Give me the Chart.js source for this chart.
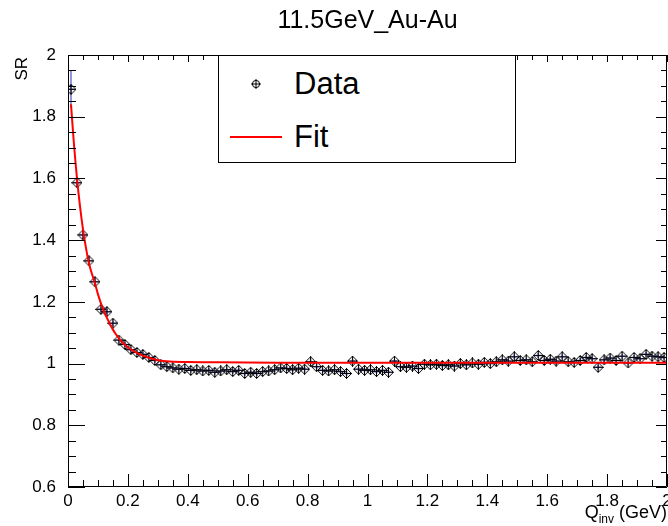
<!DOCTYPE html>
<html>
<head>
<meta charset="utf-8">
<script src="https://cdn.jsdelivr.net/npm/chart.js@4.4.0/dist/chart.umd.min.js"></script>
<style>
  body { margin: 0; background: #fff; }
  #wrap { position: relative; width: 668px; height: 526px; font-family: "Liberation Sans", Arial, sans-serif; color: #000; overflow: hidden; }
  #chart { position: absolute; left: 0; top: 0; }
  .title { position: absolute; left: 68px; width: 599px; top: 7px; text-align: center; font-size: 25px; line-height: 25px; }
  .ylab { position: absolute; left: 13px; top: 257px; width: 200px; text-align: right; font-size: 17px; line-height: 17px;
          transform-origin: 0 0; transform: rotate(-90deg); }
  .xlab { position: absolute; right: 1px; top: 503px; font-size: 18px; line-height: 18px; white-space: nowrap; }
  .xlab sub { font-size: 12px; line-height: 0; vertical-align: -5px; }
  .legend { position: absolute; left: 218px; top: 55px; width: 296px; height: 106px; border: 1px solid #000; background: #fff; }
  .legend .txt { position: absolute; left: 75px; font-size: 31px; line-height: 31px; }
  .legend .mark { position: absolute; left: 32px; top: 23px; }
  .legend .line { position: absolute; left: 11px; top: 80px; width: 52px; border-top: 2px solid #ff0000; }
</style>
</head>
<body>
<div id="wrap">
  <canvas id="chart" width="668" height="526"></canvas>
  <div class="title">11.5GeV_Au-Au</div>
  <div class="ylab">SR</div>
  <div class="xlab">Q<sub>inv</sub> (GeV)</div>
  <div class="legend">
    <svg class="mark" width="10" height="10" viewBox="0 0 10 10">
      <circle cx="5" cy="5" r="3.6" fill="none" stroke="#000" stroke-width="1"/>
      <line x1="5" y1="0" x2="5" y2="10" stroke="#000" stroke-width="1"/>
      <line x1="0" y1="5" x2="10" y2="5" stroke="#000" stroke-width="1"/>
    </svg>
    <div class="txt" style="top:12px">Data</div>
    <div class="line"></div>
    <div class="txt" style="top:65px">Fit</div>
  </div>
</div>
<script>
// bin centres (GeV), 0.02 GeV bins
const qBins = [
  0.01, 0.03, 0.05, 0.07, 0.09, 0.11, 0.13, 0.15, 0.17, 0.19,
  0.21, 0.23, 0.25, 0.27, 0.29, 0.31, 0.33, 0.35, 0.37, 0.39,
  0.41, 0.43, 0.45, 0.47, 0.49, 0.51, 0.53, 0.55, 0.57, 0.59,
  0.61, 0.63, 0.65, 0.67, 0.69, 0.71, 0.73, 0.75, 0.77, 0.79,
  0.81, 0.83, 0.85, 0.87, 0.89, 0.91, 0.93, 0.95, 0.97, 0.99,
  1.01, 1.03, 1.05, 1.07, 1.09, 1.11, 1.13, 1.15, 1.17, 1.19,
  1.21, 1.23, 1.25, 1.27, 1.29, 1.31, 1.33, 1.35, 1.37, 1.39,
  1.41, 1.43, 1.45, 1.47, 1.49, 1.51, 1.53, 1.55, 1.57, 1.59,
  1.61, 1.63, 1.65, 1.67, 1.69, 1.71, 1.73, 1.75, 1.77, 1.79,
  1.81, 1.83, 1.85, 1.87, 1.89, 1.91, 1.93, 1.95, 1.97, 1.99
];

// measured SR per bin
const srValues = [
  1.889, 1.586, 1.417, 1.333, 1.265, 1.176, 1.168, 1.131, 1.076, 1.062,
  1.045, 1.036, 1.030, 1.020, 1.010, 0.996, 0.990, 0.986, 0.982, 0.984,
  0.978, 0.980, 0.976, 0.978, 0.972, 0.976, 0.980, 0.974, 0.978, 0.968,
  0.972, 0.968, 0.974, 0.976, 0.980, 0.986, 0.984, 0.980, 0.985, 0.982,
  1.006, 0.990, 0.978, 0.976, 0.980, 0.974, 0.968, 1.008, 0.982, 0.978,
  0.980, 0.974, 0.978, 0.972, 1.008, 0.990, 0.988, 0.992, 0.984, 0.998,
  0.996, 0.998, 0.994, 0.996, 0.992, 1.000, 0.996, 1.002, 0.998, 1.004,
  1.000, 1.006, 1.012, 1.008, 1.022, 1.010, 1.012, 1.006, 1.026, 1.010,
  1.014, 1.008, 1.022, 1.006, 1.004, 1.010, 1.020, 1.016, 0.988, 1.012,
  1.018, 1.010, 1.024, 1.002, 1.020, 1.016, 1.030, 1.024, 1.022, 1.020
];

// statistical errors per bin
const srErrors = [
  0.060, 0.015, 0.013, 0.012, 0.011, 0.010, 0.010, 0.009, 0.009, 0.009,
  0.008, 0.008, 0.008, 0.008, 0.008, 0.008, 0.008, 0.008, 0.008, 0.008,
  0.008, 0.008, 0.008, 0.008, 0.008, 0.008, 0.008, 0.008, 0.008, 0.008,
  0.008, 0.008, 0.008, 0.008, 0.008, 0.008, 0.008, 0.008, 0.008, 0.008,
  0.008, 0.008, 0.008, 0.008, 0.008, 0.008, 0.008, 0.008, 0.008, 0.008,
  0.008, 0.008, 0.008, 0.008, 0.008, 0.008, 0.008, 0.008, 0.008, 0.008,
  0.008, 0.008, 0.008, 0.008, 0.008, 0.008, 0.008, 0.008, 0.008, 0.008,
  0.008, 0.008, 0.008, 0.008, 0.008, 0.008, 0.008, 0.008, 0.008, 0.008,
  0.008, 0.008, 0.008, 0.008, 0.008, 0.008, 0.008, 0.008, 0.008, 0.008,
  0.008, 0.008, 0.008, 0.008, 0.008, 0.008, 0.008, 0.008, 0.008, 0.008
];
const halfBin = 0.01;

// fit curve
const fitQ  = [0.01, 0.02, 0.03, 0.04, 0.05, 0.06, 0.07, 0.08, 0.09, 0.10,
               0.11, 0.12, 0.13, 0.14, 0.15, 0.16, 0.18, 0.20, 0.22, 0.24,
               0.27, 0.30, 0.34, 0.40, 0.50, 0.70, 1.00, 1.50, 2.00];
const fitSR = [1.840, 1.710, 1.600, 1.510, 1.435, 1.375, 1.325, 1.290, 1.260, 1.225,
               1.195, 1.170, 1.148, 1.128, 1.110, 1.095, 1.070, 1.053, 1.040, 1.030,
               1.019, 1.011, 1.007, 1.005, 1.004, 1.003, 1.003, 1.003, 1.003];

const xTickStep = 0.2, xMinorStep = 0.05;
const yTickStep = 0.2, yMinorStep = 0.05;

// ROOT-like open diamond with cross
function makeMarker() {
  const c = document.createElement('canvas');
  c.width = 11; c.height = 11;
  const g = c.getContext('2d');
  g.strokeStyle = '#000';
  g.lineWidth = 1;
  g.beginPath();
  g.moveTo(5.5, 0.5); g.lineTo(10.5, 5.5); g.lineTo(5.5, 10.5); g.lineTo(0.5, 5.5); g.closePath();
  g.moveTo(5.5, 0); g.lineTo(5.5, 11);
  g.moveTo(0, 5.5); g.lineTo(11, 5.5);
  g.stroke();
  return c;
}

const fmt = v => String(+v.toFixed(1));

// error bars + frame with inside ticks on all four sides
const rootFrame = {
  id: 'rootFrame',
  beforeDatasetsDraw(chart) {
    const { ctx, chartArea: a, scales: { x, y } } = chart;
    ctx.save();
    ctx.beginPath();
    ctx.rect(a.left, a.top, a.right - a.left, a.bottom - a.top);
    ctx.clip();
    ctx.strokeStyle = '#7070d8';
    ctx.lineWidth = 1.5;
    qBins.forEach((q, i) => {
      const px = x.getPixelForValue(q);
      const py = y.getPixelForValue(srValues[i]);
      ctx.beginPath();
      ctx.moveTo(px, y.getPixelForValue(srValues[i] + srErrors[i]));
      ctx.lineTo(px, y.getPixelForValue(srValues[i] - srErrors[i]));
      ctx.moveTo(x.getPixelForValue(q - halfBin), py);
      ctx.lineTo(x.getPixelForValue(q + halfBin), py);
      ctx.stroke();
    });
    ctx.restore();
  },
  afterDraw(chart) {
    const { ctx, chartArea: a, scales: { x, y } } = chart;
    ctx.save();
    ctx.strokeStyle = '#000';
    ctx.lineWidth = 1;
    ctx.beginPath();
    ctx.rect(Math.round(a.left) + 0.5, Math.round(a.top) + 0.5,
             Math.round(a.right - a.left) - 1, Math.round(a.bottom - a.top) - 1);
    ctx.stroke();

    ctx.beginPath();
    const nx = Math.round((x.max - x.min) / xMinorStep);
    for (let i = 0; i <= nx; i++) {
      const v = x.min + i * xMinorStep;
      const major = i % Math.round(xTickStep / xMinorStep) === 0;
      const px = Math.round(x.getPixelForValue(v)) + 0.5;
      const lb = major ? 13 : 7;
      const lt = major ? 7 : 5;
      ctx.moveTo(px, a.bottom); ctx.lineTo(px, a.bottom - lb);
      ctx.moveTo(px, a.top); ctx.lineTo(px, a.top + lt);
    }
    const ny = Math.round((y.max - y.min) / yMinorStep);
    for (let i = 0; i <= ny; i++) {
      const v = y.min + i * yMinorStep;
      const major = i % Math.round(yTickStep / yMinorStep) === 0;
      const py = Math.round(y.getPixelForValue(v)) + 0.5;
      const ll = major ? 17 : 8;
      const lr = major ? 11 : 6;
      ctx.moveTo(a.left, py); ctx.lineTo(a.left + ll, py);
      ctx.moveTo(a.right, py); ctx.lineTo(a.right - lr, py);
    }
    ctx.stroke();
    ctx.restore();
  }
};

const tickFont = { family: 'Liberation Sans', size: 17 };

new Chart(document.getElementById('chart'), {
  type: 'scatter',
  data: {
    datasets: [
      {
        label: 'Fit',
        data: fitQ.map((q, i) => ({ x: q, y: fitSR[i] })),
        showLine: true,
        borderColor: '#ff0000',
        borderWidth: 2,
        pointRadius: 0,
        tension: 0.3,
        fill: false
      },
      {
        label: 'Data',
        data: qBins.map((q, i) => ({ x: q, y: srValues[i] })),
        showLine: false,
        pointStyle: makeMarker(),
        pointRadius: 5
      }
    ]
  },
  options: {
    responsive: false,
    animation: false,
    devicePixelRatio: 1,
    layout: { padding: { left: 0, right: 1, top: 55, bottom: 0 }, autoPadding: false },
    plugins: {
      legend: { display: false },
      tooltip: { enabled: false },
      title: { display: false }
    },
    scales: {
      x: {
        type: 'linear', min: 0, max: 2,
        grid: { display: false },
        border: { display: false },
        ticks: { stepSize: xTickStep, padding: -4, color: '#000', font: tickFont,
                 maxRotation: 0, autoSkip: false, callback: fmt },
        afterFit: s => { s.height = 39; }
      },
      y: {
        type: 'linear', min: 0.6, max: 2,
        grid: { display: false },
        border: { display: false },
        ticks: { stepSize: yTickStep, padding: 4, color: '#000', font: tickFont, callback: fmt },
        afterFit: s => { s.width = 68; }
      }
    }
  },
  plugins: [rootFrame]
});
</script>
</body>
</html>
